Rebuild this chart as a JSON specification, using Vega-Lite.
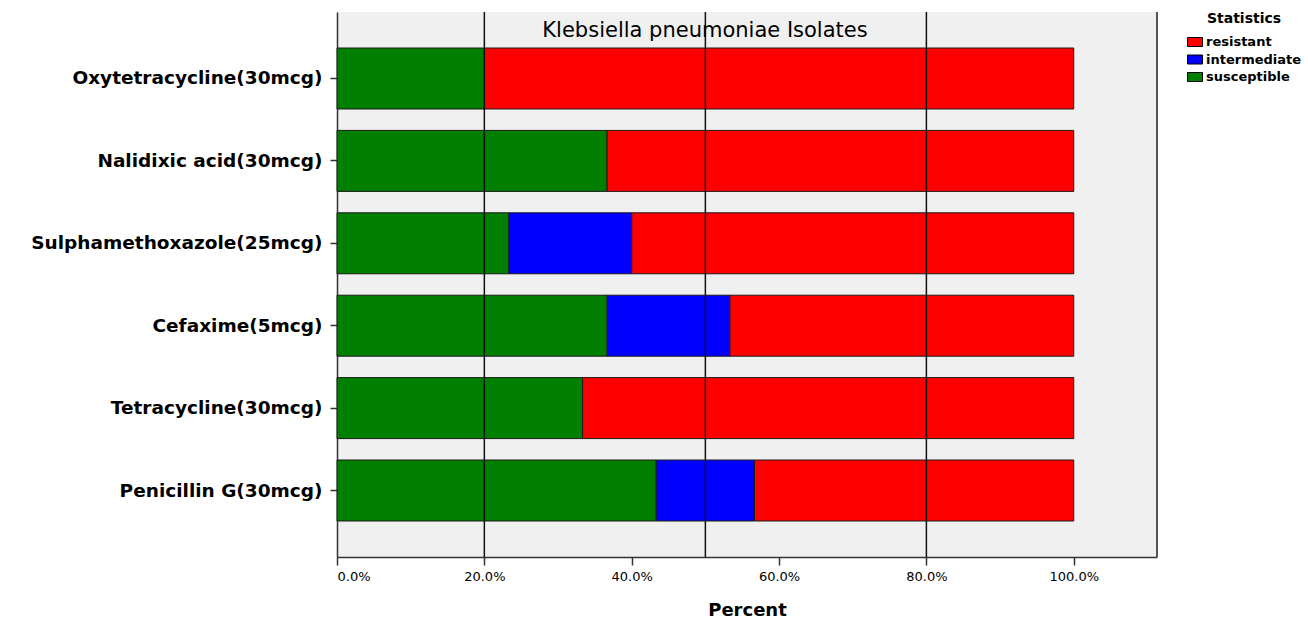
{
  "$schema": "https://vega.github.io/schema/vega-lite/v6.json",
  "width": 820,
  "height": 545,
  "autosize": "none",
  "padding": {"left": 337, "top": 12, "right": 151, "bottom": 62},
  "background": "white",
  "config": {
    "font": "DejaVu Sans",
    "view": {"fill": "#f0f0f0", "stroke": null}
  },
  "title": {
    "text": "Klebsiella pneumoniae Isolates",
    "orient": "top",
    "anchor": "middle",
    "dx": -42,
    "offset": -30,
    "fontSize": 21,
    "fontWeight": "normal",
    "color": "black",
    "font": "DejaVu Sans"
  },
  "datasets": {
    "bars": [
      {"Antibiotic": "Oxytetracycline(30mcg)", "Statistics": "susceptible", "Percent": 20},
      {"Antibiotic": "Oxytetracycline(30mcg)", "Statistics": "resistant", "Percent": 80},
      {"Antibiotic": "Nalidixic acid(30mcg)", "Statistics": "susceptible", "Percent": 36.67},
      {"Antibiotic": "Nalidixic acid(30mcg)", "Statistics": "resistant", "Percent": 63.33},
      {"Antibiotic": "Sulphamethoxazole(25mcg)", "Statistics": "susceptible", "Percent": 23.33},
      {"Antibiotic": "Sulphamethoxazole(25mcg)", "Statistics": "intermediate", "Percent": 16.67},
      {"Antibiotic": "Sulphamethoxazole(25mcg)", "Statistics": "resistant", "Percent": 60},
      {"Antibiotic": "Cefaxime(5mcg)", "Statistics": "susceptible", "Percent": 36.67},
      {"Antibiotic": "Cefaxime(5mcg)", "Statistics": "intermediate", "Percent": 16.66},
      {"Antibiotic": "Cefaxime(5mcg)", "Statistics": "resistant", "Percent": 46.67},
      {"Antibiotic": "Tetracycline(30mcg)", "Statistics": "susceptible", "Percent": 33.33},
      {"Antibiotic": "Tetracycline(30mcg)", "Statistics": "resistant", "Percent": 66.67},
      {"Antibiotic": "Penicillin G(30mcg)", "Statistics": "susceptible", "Percent": 43.33},
      {"Antibiotic": "Penicillin G(30mcg)", "Statistics": "intermediate", "Percent": 13.33},
      {"Antibiotic": "Penicillin G(30mcg)", "Statistics": "resistant", "Percent": 43.34}
    ],
    "refs": [{"x": 20}, {"x": 50}, {"x": 80}]
  },
  "layer": [
    {
      "data": {"name": "bars"},
      "transform": [
        {"calculate": "indexof(['susceptible','intermediate','resistant'], datum.Statistics)", "as": "stackOrder"}
      ],
      "mark": {"type": "bar", "stroke": "#1a1a1a", "strokeWidth": 1},
      "encoding": {
        "y": {
          "field": "Antibiotic",
          "type": "nominal",
          "sort": ["Oxytetracycline(30mcg)", "Nalidixic acid(30mcg)", "Sulphamethoxazole(25mcg)", "Cefaxime(5mcg)", "Tetracycline(30mcg)", "Penicillin G(30mcg)"],
          "scale": {"paddingInner": 0.26, "paddingOuter": 0.437},
          "axis": {
            "title": null,
            "labelFontSize": 18.5,
            "labelFontWeight": "bold",
            "labelColor": "black",
            "labelPadding": 8,
            "tickSize": 7,
            "tickColor": "#333",
            "domainColor": "#333",
            "domainWidth": 1.5,
            "tickWidth": 1.5,
            "labelLimit": 400
          }
        },
        "x": {
          "field": "Percent",
          "type": "quantitative",
          "stack": "zero",
          "scale": {"domain": [0, 111.3], "nice": false, "zero": true},
          "axis": {
            "values": [0, 20, 40, 60, 80, 100],
            "labelExpr": "format(datum.value, '.1f') + '%'",
            "grid": false,
            "labelFontSize": 13,
            "labelColor": "black",
            "labelPadding": 5,
            "tickSize": 8,
            "tickColor": "#333",
            "tickWidth": 1.5,
            "domainColor": "#333",
            "domainWidth": 1.5,
            "title": "Percent",
            "titleFontSize": 18,
            "titleFontWeight": "bold",
            "titleColor": "black",
            "titlePadding": 18
          }
        },
        "color": {
          "field": "Statistics",
          "type": "nominal",
          "scale": {"domain": ["resistant", "intermediate", "susceptible"], "range": ["#ff0000", "#0000ff", "#007f00"]},
          "legend": {
            "orient": "none",
            "legendX": 850,
            "legendY": 0,
            "title": "Statistics",
            "titleFontSize": 14,
            "titleFontWeight": "bold",
            "titleColor": "black",
            "titleAnchor": "middle",
            "labelFontSize": 13,
            "labelFontWeight": "bold",
            "labelColor": "black",
            "symbolType": "M-1,-0.6H1V0.6H-1Z",
            "symbolSize": 225,
            "symbolStrokeColor": "black",
            "symbolStrokeWidth": 1,
            "symbolOpacity": 1,
            "labelOffset": 3,
            "rowPadding": 2.5,
            "titlePadding": 8
          }
        },
        "order": {"field": "stackOrder", "type": "quantitative"}
      }
    },
    {
      "data": {"name": "refs"},
      "mark": {"type": "rule", "color": "#111", "strokeWidth": 1.5},
      "encoding": {"x": {"field": "x", "type": "quantitative"}}
    },
    {
      "data": {"values": [{"edge": 111.3}]},
      "mark": {"type": "rule", "color": "#555", "strokeWidth": 2},
      "encoding": {"x": {"field": "edge", "type": "quantitative"}}
    }
  ]
}
